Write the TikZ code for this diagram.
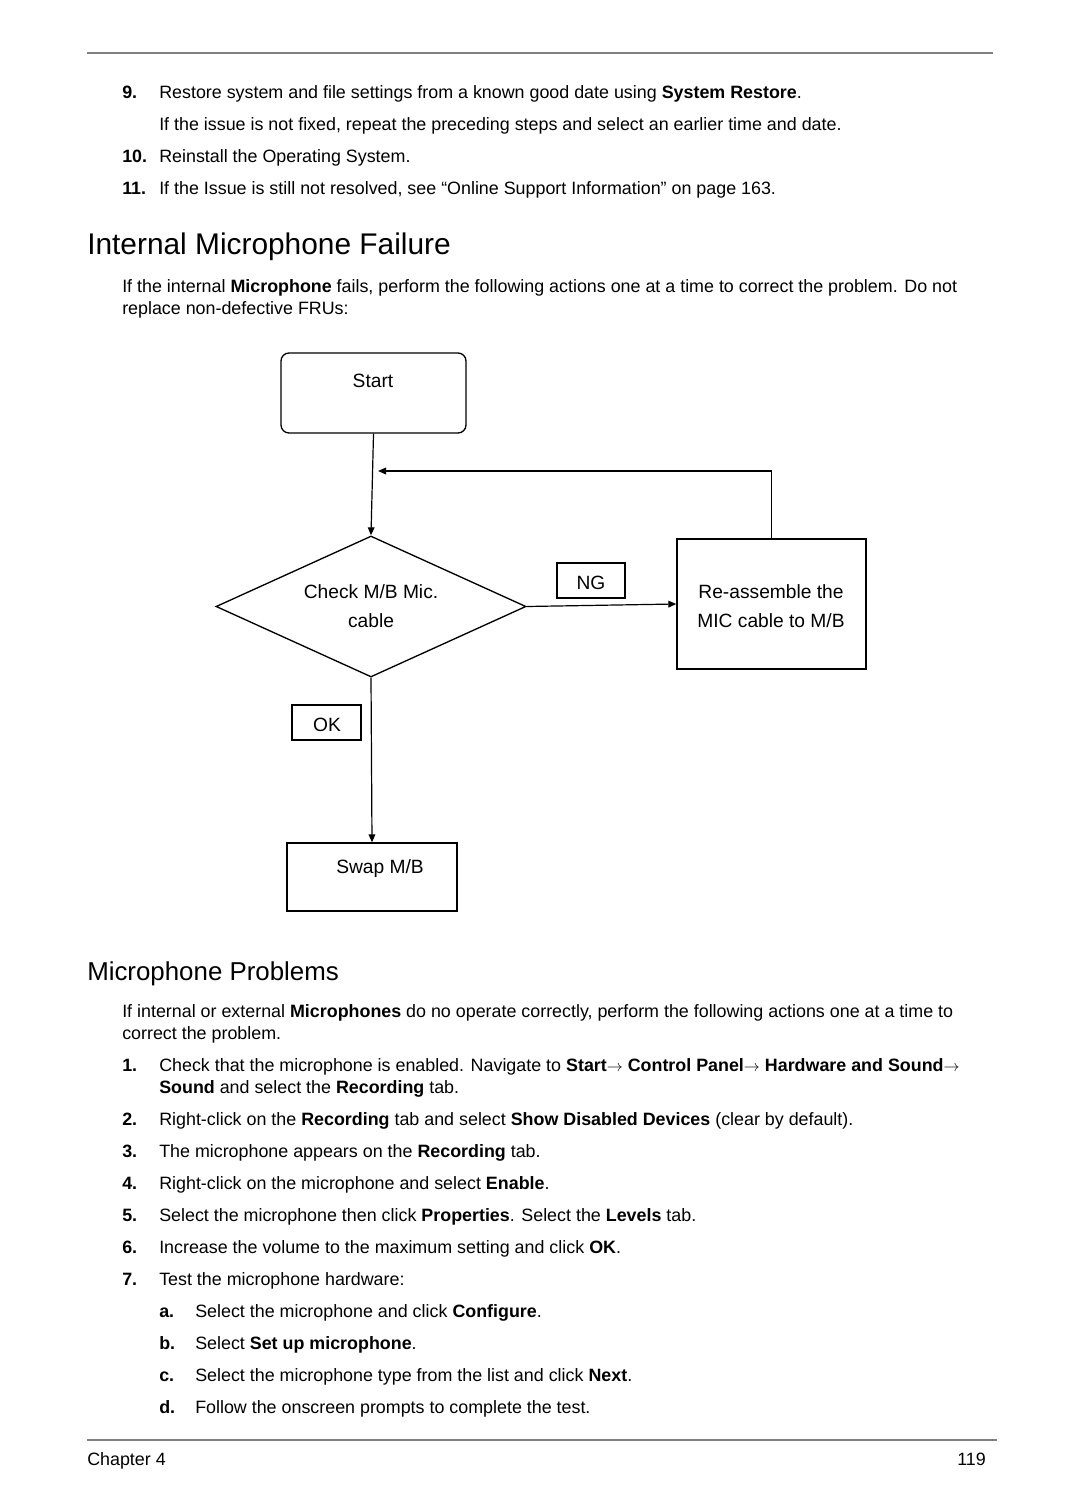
\documentclass[tikz,border=0pt]{standalone}
\usepackage{fontspec}
\setmainfont{Liberation Sans}
\newcommand{\rarr}{{\fontsize{12}{14}\selectfont$\rightarrow$}\ }
\usetikzlibrary{arrows.meta,shapes.geometric}
\begin{document}
\begin{tikzpicture}[x=0.75pt,y=-0.75pt,
  t/.style={anchor=mid west, inner sep=0pt, font=\fontsize{13.4}{16}\selectfont},
  tb/.style={anchor=mid west, inner sep=0pt, font=\fontsize{13.4}{16}\selectfont\bfseries},
  h1/.style={anchor=mid west, inner sep=0pt, font=\fontsize{22.4}{26}\selectfont},
  h2/.style={anchor=mid west, inner sep=0pt, font=\fontsize{19.4}{23}\selectfont},
  fc/.style={inner sep=0pt, font=\fontsize{14.4}{17}\selectfont},
  box/.style={draw, line width=1pt, inner sep=0pt},
  arr/.style={-{Triangle[length=6pt,width=5pt]}, line width=0.9pt},
  rule/.style={draw=black!50, line width=2pt}
]
\useasboundingbox[fill=white] (0,0) rectangle (1080,1512);

% page rules
\draw[rule] (87,53) -- (993,53);
\draw[rule] (87,1440) -- (997,1440);

% top list
\node[tb] (n9) at (122,95) {9.};
\node[t] (l9) at (159,95) {Restore system and file settings from a known good date using \textbf{System Restore}.};
\node[t] (l9b) at (159,127) {If the issue is not fixed, repeat the preceding steps and select an earlier time and date.};
\node[tb] (n10) at (122,159) {10.};
\node[t] (l10) at (159,159) {Reinstall the Operating System.};
\node[tb] (n11) at (122,191) {11.};
\node[t] (l11) at (159,191) {If the Issue is still not resolved, see “Online Support Information” on page 163.};

% heading 1
\node[h1] (hd1) at (87,251) {Internal Microphone Failure};
\node[t] (p1a) at (122,289) {If the internal \textbf{Microphone} fails, perform the following actions one at a time to correct the problem. Do not};
\node[t] (p1b) at (122,311) {replace non-defective FRUs:};

% flowchart
\node[box, rounded corners=6pt, minimum width=138.75pt, minimum height=60pt] (start) at (373.5,393) {};
\node[fc] (starttxt) at (373,381) {Start};
\node[box, diamond, minimum width=232.5pt, minimum height=105.75pt] (chk) at (371,606.5) {};
\node[fc] (chk1) at (371,592) {Check M/B Mic.};
\node[fc] (chk2) at (371,621) {cable};
\node[box, minimum width=51pt, minimum height=26.25pt] (ng) at (591,580.5) {};
\node[fc] (ngtxt) at (591,583) {NG};
\node[box, minimum width=141.75pt, minimum height=97.5pt] (reas) at (771.5,604) {};
\node[fc] (reas1) at (771,592) {Re-assemble the};
\node[fc] (reas2) at (771,621) {MIC cable to M/B};
\node[box, minimum width=51.75pt, minimum height=26.25pt] (ok) at (326.5,722.5) {};
\node[fc] (oktxt) at (327,725) {OK};
\node[box, minimum width=127.5pt, minimum height=51pt] (swap) at (372,877) {};
\node[fc] (swaptxt) at (380,869) {Swap M/B};
\coordinate (fb) at (378,471);

\draw[arr] (start.south) -- (chk.north);
\draw[arr] (chk.east) -- (reas.west);
\draw[arr] (reas.north) |- (fb);
\draw[arr] (chk.south) -- (swap.north);

% heading 2
\node[h2] (hd2) at (87,977) {Microphone Problems};
\node[t] (p2a) at (122,1014) {If internal or external \textbf{Microphones} do no operate correctly, perform the following actions one at a time to};
\node[t] (p2b) at (122,1036) {correct the problem.};

\node[tb] (m1) at (122,1068) {1.};
\node[t] (i1a) at (159,1068) {Check that the microphone is enabled. Navigate to \textbf{Start}\rarr\textbf{Control Panel}\rarr\textbf{Hardware and Sound}\rarr};
\node[t] (i1b) at (159,1090) {\textbf{Sound} and select the \textbf{Recording} tab.};
\node[tb] (m2) at (122,1122) {2.};
\node[t] (i2) at (159,1122) {Right-click on the \textbf{Recording} tab and select \textbf{Show Disabled Devices} (clear by default).};
\node[tb] (m3) at (122,1154) {3.};
\node[t] (i3) at (159,1154) {The microphone appears on the \textbf{Recording} tab.};
\node[tb] (m4) at (122,1186) {4.};
\node[t] (i4) at (159,1186) {Right-click on the microphone and select \textbf{Enable}.};
\node[tb] (m5) at (122,1218) {5.};
\node[t] (i5) at (159,1218) {Select the microphone then click \textbf{Properties}. Select the \textbf{Levels} tab.};
\node[tb] (m6) at (122,1250) {6.};
\node[t] (i6) at (159,1250) {Increase the volume to the maximum setting and click \textbf{OK}.};
\node[tb] (m7) at (122,1282) {7.};
\node[t] (i7) at (159,1282) {Test the microphone hardware:};
\node[tb] (ma) at (159,1314) {a.};
\node[t] (ia) at (195,1314) {Select the microphone and click \textbf{Configure}.};
\node[tb] (mb) at (159,1346) {b.};
\node[t] (ib) at (195,1346) {Select \textbf{Set up microphone}.};
\node[tb] (mc) at (159,1378) {c.};
\node[t] (ic) at (195,1378) {Select the microphone type from the list and click \textbf{Next}.};
\node[tb] (md) at (159,1410) {d.};
\node[t] (id) at (195,1410) {Follow the onscreen prompts to complete the test.};

% footer
\node[t] (ch) at (87,1462) {Chapter 4};
\node[t, anchor=mid east] (pg) at (986,1462) {119};
\end{tikzpicture}
\end{document}
